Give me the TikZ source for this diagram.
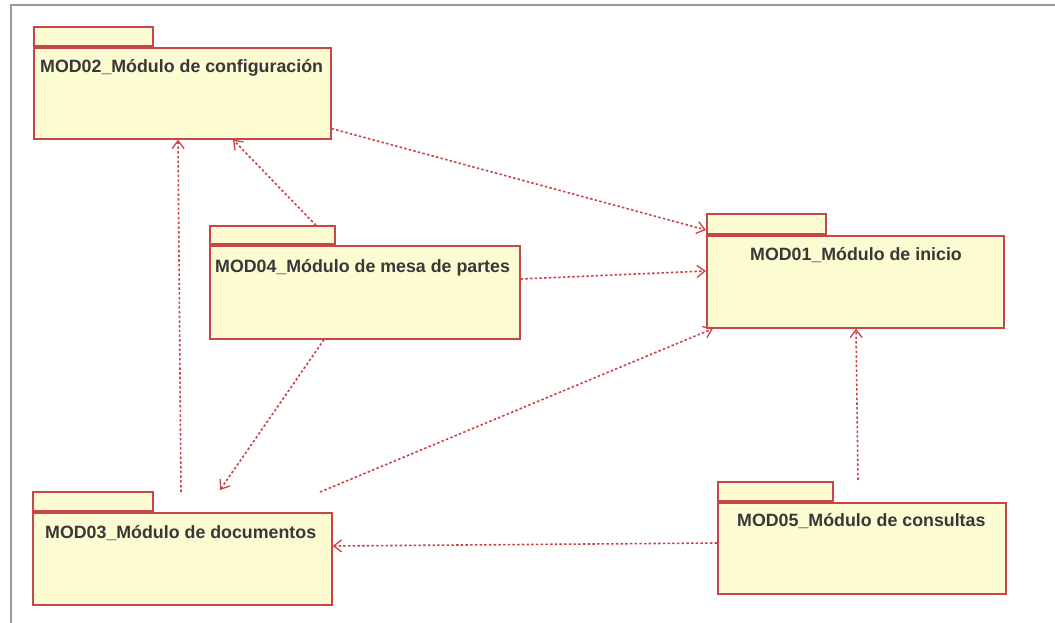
\documentclass[tikz,border=0pt]{standalone}
\usepackage{fontspec}
\setmainfont{Liberation Sans}
\usetikzlibrary{arrows.meta}
\definecolor{pkgfill}{HTML}{FDFBD2}
\definecolor{pkgline}{HTML}{C8464A}
\definecolor{deparrow}{HTML}{C84448}
\definecolor{framegrey}{HTML}{9A9A9A}
\definecolor{labeltext}{HTML}{383838}
\tikzset{
  pkgbody/.style={draw=pkgline, fill=pkgfill, line width=1.6pt, inner sep=0pt, anchor=north west},
  pkgtab/.style={draw=pkgline, fill=pkgfill, line width=1.6pt, inner sep=0pt, anchor=south west},
  pkglabel/.style={text=labeltext, font=\bfseries\fontsize{17.8}{20}\selectfont, inner sep=0pt},
  dep/.style={draw=deparrow, line width=1.6pt, dash pattern=on 2.5pt off 2.2pt,
              -{Straight Barb[length=8pt,width=12pt,line width=1.3pt]}}
}
\begin{document}
\begin{tikzpicture}[x=1pt,y=-1pt]
  \useasboundingbox (0,0) rectangle (1055,623);
  \fill[white] (0,0) rectangle (1055,623);
  % window frame
  \draw[framegrey, line width=2.5pt] (11,623) -- (11,5) -- (1055,5);

  % packages: tab first, then body on top
  \node[pkgtab, minimum width=119pt, minimum height=19pt] (m2tab) at (33,47) {};
  \node[pkgbody, minimum width=297pt, minimum height=91pt] (m2) at (33,47) {};
  \node[pkgtab, minimum width=125pt, minimum height=18pt] (m4tab) at (209,245) {};
  \node[pkgbody, minimum width=310pt, minimum height=93pt] (m4) at (209,245) {};
  \node[pkgtab, minimum width=119pt, minimum height=20pt] (m1tab) at (706,235) {};
  \node[pkgbody, minimum width=297pt, minimum height=92pt] (m1) at (706,235) {};
  \node[pkgtab, minimum width=120pt, minimum height=19pt] (m3tab) at (32,512) {};
  \node[pkgbody, minimum width=299pt, minimum height=92pt] (m3) at (32,512) {};
  \node[pkgtab, minimum width=115pt, minimum height=19pt] (m5tab) at (717,502) {};
  \node[pkgbody, minimum width=288pt, minimum height=91pt] (m5) at (717,502) {};

  % package names
  \node[pkglabel, anchor=west] (t2) at ([xshift=7pt,yshift=-21pt]m2.north west) {MOD02\_Módulo de configuración};
  \node[pkglabel, anchor=west] (t4) at ([xshift=6pt,yshift=-23pt]m4.north west) {MOD04\_Módulo de mesa de partes};
  \node[pkglabel, anchor=center] (t1) at ([xshift=150pt,yshift=-20pt]m1.north west) {MOD01\_Módulo de inicio};
  \node[pkglabel, anchor=west] (t3) at ([xshift=13pt,yshift=-21pt]m3.north west) {MOD03\_Módulo de documentos};
  \node[pkglabel, anchor=west] (t5) at ([xshift=20pt,yshift=-19pt]m5.north west) {MOD05\_Módulo de consultas};

  % dependencies
  \draw[dep] ([yshift=11pt]m2.south east) -- ([yshift=5pt]m1tab.south west);
  \draw[dep] ([yshift=-34pt]m4.north east) -- ([yshift=-36pt]m1.north west);
  \draw[dep] ([xshift=288pt,yshift=20pt]m3.north west) -- ([xshift=7pt]m1.south west);
  \draw[dep] ([xshift=141pt,yshift=22pt]m5.north west) -- ([xshift=150pt]m1.south west);
  \draw[dep] ([yshift=-41pt]m5.north west) -- ([yshift=-34pt]m3.north east);
  \draw[dep] ([xshift=115pt]m4.south west) -- ([xshift=188pt,yshift=22pt]m3.north west);
  \draw[dep] ([xshift=149pt,yshift=20pt]m3.north west) -- ([xshift=145pt]m2.south west);
  \draw[dep] ([xshift=107pt]m4tab.north west) -- ([xshift=200pt]m2.south west);
\end{tikzpicture}
\end{document}
